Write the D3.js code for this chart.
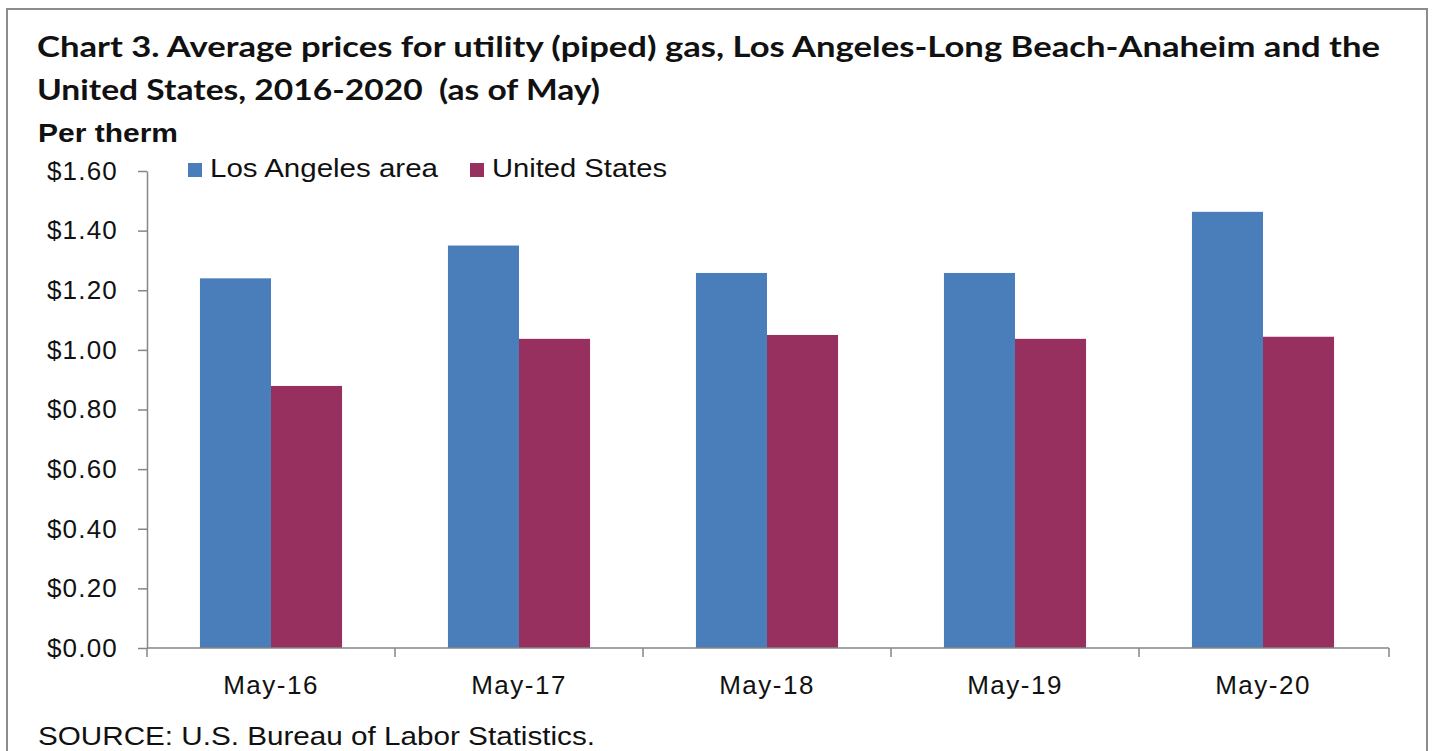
<!DOCTYPE html>
<html><head><meta charset="utf-8">
<script src="https://cdn.jsdelivr.net/npm/d3@7"></script>
<style>body{margin:0;background:#fff}svg{display:block}text{white-space:pre}</style>
</head><body>
<script>
const categories = ["May-16","May-17","May-18","May-19","May-20"];
const seriesNames = ["Los Angeles area","United States"];
const losAngeles = [1.24, 1.35, 1.258, 1.258, 1.463];
const unitedStates = [0.879, 1.037, 1.05, 1.037, 1.044];
const yTicks = [0,0.2,0.4,0.6,0.8,1.0,1.2,1.4,1.6];
const colors = ["#4a7ebb","#98305f"];

(function(){
const W=1433,H=751;
const svg=d3.select("body").append("svg").attr("width",W).attr("height",H);
svg.append("rect").attr("x",7).attr("y",9).attr("width",1420).attr("height",760)
  .attr("fill","#fff").attr("stroke","#8c8c8c").attr("stroke-width",2);

const pL=147,pR=1387,pT=171,pB=648;
const x=d3.scaleBand().domain(categories).range([pL,pR]).padding(0);
const groupW=x.bandwidth()*0.573;
const x1=d3.scaleBand().domain(seriesNames).range([0,groupW]);
const y=d3.scaleLinear().domain([0,1.6]).range([pB,pT]);

const data=categories.map((c,i)=>({c,vals:[losAngeles[i],unitedStates[i]]}));
const g=svg.append("g");
data.forEach(d=>{
  d.vals.forEach((v,j)=>{
    g.append("rect")
      .attr("x",x(d.c)+(x.bandwidth()-groupW)/2+x1(seriesNames[j]))
      .attr("y",y(v)).attr("width",x1.bandwidth()).attr("height",y(0)-y(v))
      .attr("fill",colors[j]);
  });
});

const font="'Liberation Sans', Arial, sans-serif";
const ya=svg.append("g").attr("transform",`translate(${pL},0)`)
  .call(d3.axisLeft(y).tickValues(yTicks).tickSize(9).tickSizeOuter(0).tickPadding(20).tickFormat(d=>"$"+d3.format(".2f")(d)));
ya.selectAll("path,line").attr("stroke","#868686").attr("stroke-width",1.5);
ya.selectAll("text").attr("font-family",font).attr("font-size",26).attr("fill","#111")
  .attr("letter-spacing","1.2px");
const xa=svg.append("g").attr("transform",`translate(0,${pB})`)
  .call(d3.axisBottom(x).tickSize(0).tickPadding(28).tickSizeOuter(0));
xa.select("path").attr("stroke","#868686").attr("stroke-width",1.5).attr("d",`M${pL},0H${pR+2}`);
xa.selectAll("text").attr("font-family",font).attr("font-size",26).attr("fill","#111").attr("letter-spacing","1.5px");
const bounds=categories.map(c=>x(c)).concat([pR+2]);
xa.selectAll(".bnd").data(bounds).enter().append("line")
  .attr("x1",d=>d).attr("x2",d=>d).attr("y1",0).attr("y2",9)
  .attr("stroke","#868686").attr("stroke-width",1.5);

const tfont="Lato, 'Open Sans', sans-serif";
svg.append("text").attr("x",37).attr("y",57).attr("font-family",tfont).attr("font-weight",700)
  .attr("font-size",29).attr("fill","#111").attr("textLength",1343).attr("lengthAdjust","spacingAndGlyphs")
  .text("Chart 3. Average prices for utility (piped) gas, Los Angeles-Long Beach-Anaheim and the");
svg.append("text").attr("x",37).attr("y",100).attr("font-family",tfont).attr("font-weight",700)
  .attr("font-size",29).attr("fill","#111").attr("textLength",563).attr("lengthAdjust","spacingAndGlyphs")
  .text("United States, 2016-2020  (as of May)");
svg.append("text").attr("x",38).attr("y",142).attr("font-family",font).attr("font-weight",700)
  .attr("font-size",26).attr("fill","#111").attr("textLength",140).attr("lengthAdjust","spacingAndGlyphs")
  .text("Per therm");

const legX=[188,470], legTextW=[228,175];
seriesNames.forEach((s,j)=>{
  svg.append("rect").attr("x",legX[j]).attr("y",163).attr("width",14).attr("height",14).attr("fill",colors[j]);
  svg.append("text").attr("x",legX[j]+22).attr("y",177).attr("font-family",font).attr("font-size",26)
    .attr("fill","#111").attr("textLength",legTextW[j]).attr("lengthAdjust","spacingAndGlyphs").text(s);
});

svg.append("text").attr("x",38).attr("y",745).attr("font-family",font).attr("font-size",26)
  .attr("fill","#111").attr("textLength",557).attr("lengthAdjust","spacingAndGlyphs")
  .text("SOURCE: U.S. Bureau of Labor Statistics.");
})();
</script>
</body></html>
